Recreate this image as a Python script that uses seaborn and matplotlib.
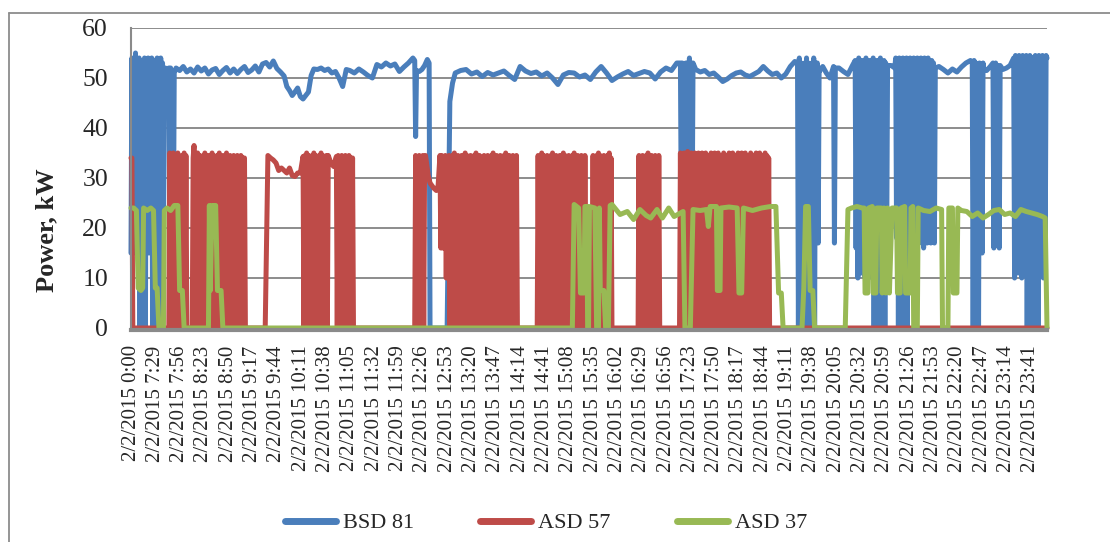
import numpy as np
import pandas as pd
import matplotlib
matplotlib.use("Agg")
import matplotlib.pyplot as plt
from matplotlib.lines import Line2D
import seaborn as sns

# ---------------- data (minute index: 0 = 0:00, 1 = 7:03, ... 1017 = 23:59) ----------------
TIME_LABELS = ["0:00", "7:29", "7:56", "8:23", "8:50", "9:17", "9:44", "10:11", "10:38", "11:05",
               "11:32", "11:59", "12:26", "12:53", "13:20", "13:47", "14:14", "14:41", "15:08",
               "15:35", "16:02", "16:29", "16:56", "17:23", "17:50", "18:17", "18:44", "19:11",
               "19:38", "20:05", "20:32", "20:59", "21:26", "21:53", "22:20", "22:47", "23:14",
               "23:41"]
DATE = "2/2/2015"
SERIES = ["BSD 81", "ASD 57", "ASD 37"]
COLORS = ["#4A7EBB", "#BE4B48", "#98B954"]

# runs: (start minute, minute step, kW values)
BSD81_RUNS = [
    (0, 1, [15, 54, 16, 53, 15, 55, 17, 53, 15, 54, 0, 53, 0, 52, 0, 54, 0, 53, 16, 54, 15, 53, 17, 54,
            0, 53, 0, 52, 0, 54, 16, 53, 0, 54, 0, 53, 15, 52]),
    (38, 2, [52, 51.5]),
    (42, 1, [52, 16, 52, 15, 50, 16, 51]),
    (50, 4, [52, 51.5, 52.3, 51.2, 51.8, 51, 52.2, 51.4, 52, 50.8, 51.6, 51.9, 50.7, 51.5, 52.1, 51,
             51.8, 50.9, 51.7, 52.3, 51.1, 51.6, 52.4, 51.2, 52.8, 53.1, 52.2, 53.4, 51.9, 51.2]),
    (170, 3, [50.4, 48.3, 47.5, 46.5, 47.2, 48, 46.3, 45.8, 46.5, 47.2, 50.5, 51.8]),
    (207, 4, [51.7, 52, 51.5, 51.8, 51, 51.3, 50, 48.3, 51.7]),
    (243, 5, [51.5, 51, 51.8, 51.2, 50.5, 50, 52.7, 52.2, 53, 52.4, 52.8, 51.3, 52.2, 53, 54]),
    (315, 1, [53.5, 38.3, 51.5]),
    (320, 3, [51.3, 51.7, 52.5, 53.7]),
    (331, 1, [53, 0]),
    (351, 3, [0, 45.3, 49]),
    (360, 6, [51, 51.5, 51.7, 50.8, 51.2, 50.3, 51.1, 50.6, 51, 51.4, 50.5, 49.7, 52.3, 51.4, 50.9,
              51.2, 50.4, 51, 50, 48.7, 50.6, 51.1, 51, 50.2, 50.6, 49.7, 51.2, 52.3, 51, 49.5, 50.2,
              50.8, 51.3, 50.5, 50.9, 51.3, 51, 49.8, 51.2, 52, 51.5, 53]),
    (610, 1, [53, 22, 53, 20, 52, 21, 53, 19, 53, 22, 54, 20, 53, 21, 53]),
    (627, 5, [51.7, 51.2, 51.5, 50.7, 51, 50.2, 49.3, 49.8, 50.5, 51, 51.2, 50.6, 50.3, 50.8, 51.3,
              52.3, 51.4, 50.7, 51, 50, 50.8, 52.3, 53.3]),
    (740, 1, [53, 0, 54, 0, 53, 2, 52, 0, 53, 0, 54, 1, 53, 0, 52, 0, 53, 0, 54, 0, 53, 18, 53, 17,
              52, 51.5]),
    (768, 4, [52.3, 51, 50, 52.3]),
    (781, 1, [17, 52]),
    (786, 5, [52, 51.3, 50.7, 52.5]),
    (804, 1, [53.5, 16, 53, 10, 54, 15, 53, 11, 53.5, 16, 53, 10, 54, 14, 53, 12, 53.5, 16, 53, 10,
              54, 0, 53, 12, 53.5, 0, 53, 15, 54, 0, 53, 11, 53.5, 0, 53, 16, 52.5]),
    (844, 4, [52.5, 52]),
    (849, 1, [54, 18, 53, 0, 54, 17, 53, 0, 54, 0, 53, 18, 54, 0, 53, 17, 54, 18, 53, 17, 54, 16, 53,
              18, 54, 17, 53, 18, 54, 17, 53, 16, 54, 18, 53, 17, 54, 18, 53, 17, 53.5, 18, 53, 17, 52]),
    (897, 5, [52.3, 51.7, 51, 51.8, 51.2, 52.2, 53, 53.5]),
    (934, 1, [53, 0, 53.5, 0, 53, 1, 52.5, 0, 53, 16, 52, 15, 53, 51.5]),
    (950, 4, [51.5, 52.3]),
    (957, 1, [53, 16, 52.5, 53, 17, 52.5, 52, 16, 52.5]),
    (968, 4, [51.7, 52, 52.5]),
    (980, 1, [54, 10, 54.5, 16, 54, 11, 54.5, 15, 54, 10, 54.5, 16, 54, 12, 54.5, 0, 54, 15, 54.5, 0,
              54, 14, 54, 0, 54.5, 16, 54, 0, 54.5, 13, 54, 16, 54.5, 10, 54, 15, 54.5, 54]),
]

ASD57_RUNS = [
    (0, 1, [34, 34, 0]),
    (42, 1, [0, 35, 0, 34.5, 0, 35, 0, 0, 34.5, 0, 35, 0, 34, 0, 0, 34.5, 0, 35, 0, 34.5, 0]),
    (68, 1, [0, 34, 36.5, 0, 34, 0, 35, 0, 34.5, 0, 34, 10, 34.5, 10, 35, 0, 34, 0, 34.5, 0, 34, 0,
             35, 0, 34.5, 0, 34, 0, 34.5, 0, 35, 0, 34, 0, 34.5, 0, 34, 0, 35, 0, 34, 0, 34.5, 0, 34,
             0, 34.5, 10, 34, 10, 34.5, 0, 34, 0, 34.5, 0, 34, 0, 34, 0]),
    (149, 3, [0, 34.5, 34, 33.6, 33, 31.5, 32, 31.5, 31, 32, 30.5, 30.3, 31, 31, 34.3]),
    (192, 1, [0, 34.5, 0, 35, 0, 34.5, 0, 34, 0, 34.5, 0, 35, 0, 34.5, 0, 34, 0, 34.5, 0, 35, 0,
              34.5, 0, 34, 0, 34.5, 0, 34.5]),
    (222, 3, [33, 32.3]),
    (228, 1, [34.3, 0, 34.5, 0, 34, 0, 34.5, 10, 34, 0, 34.5, 0, 34, 0, 34.5, 0, 34, 10, 34, 0]),
    (315, 1, [0, 34.5, 0, 34, 0, 34.5, 0, 34, 0, 34.5, 0, 34, 34.5]),
    (330, 2, [30.5, 29]),
    (336, 3, [28, 27.5]),
    (341, 2, [28.5, 34.5]),
    (344, 1, [16, 34.5, 16, 34, 16, 34.5, 10, 34, 10, 34.5,
              0, 34, 0, 34.5, 0, 35, 0, 34, 0, 34.5,
              0, 34, 0, 34.5, 0, 34, 0, 35, 0, 34.5,
              0, 34, 0, 34.5, 0, 34, 0, 34.5, 0, 35,
              0, 34, 0, 34.5, 0, 9, 34, 9, 34.5, 0,
              34, 0, 34.5, 0, 34, 0, 34.5, 0, 35, 0,
              34, 9, 34.5, 0, 34, 0, 34.5, 0, 34, 0,
              34.5, 0, 35, 0, 34, 0, 34.5, 0, 34, 0,
              34.5, 0, 34, 0, 34.5, 0]),
    (451, 1, [0, 34.5, 0, 34, 0, 35, 0, 34.5, 0, 34, 0,
              34.5, 10, 34, 0, 34.5, 0, 35, 0, 34, 0,
              34.5, 0, 34, 0, 34.5, 0, 34, 0, 35, 0,
              34.5, 0, 34, 0, 34.5, 0, 34, 0, 34.5, 0,
              35, 0, 34, 0, 34.5, 0, 34, 0, 34.5, 0,
              34, 0, 34.5, 0]),
    (512, 1, [0, 34.5, 0, 34, 0, 34.5, 0, 35, 0, 34.5, 0, 34, 0, 34.5, 0, 34, 0, 34.5, 0, 35, 0, 34, 0]),
    (563, 1, [0, 34.5, 0, 34, 0, 34.5, 10, 34, 0, 34.5, 0, 35, 0, 34, 0, 34.5, 0, 34, 10, 34.5, 0,
              34, 0, 34.5, 0]),
    (609, 1, [0, 35, 0, 34.5, 0, 35, 0, 34, 0, 35.3, 0,
              34.5, 0, 35, 0, 34.5, 0, 35, 0, 34, 0,
              35, 0, 34.5, 0, 35, 10, 34.5, 0, 35, 0,
              34, 0, 34.5, 0, 35, 10, 34.5, 10, 35, 0,
              34.5, 0, 35, 0, 34, 0, 34.5, 0, 35, 0,
              34.5, 0, 34, 0, 35, 0, 34.5, 0, 35, 0,
              34, 0, 34.5, 0, 35, 0, 34.5, 10, 35, 10,
              34.5, 0, 35, 0, 34, 0, 34.5, 0, 35, 0,
              34.5, 0, 34, 0, 35, 0, 34.5, 0, 35, 0,
              34, 0, 34.5, 0, 35, 0, 34.5, 0, 34, 0]),
    (1017, 1, [0]),
]

ASD37_MIN = [0, 3, 6, 8, 11, 13, 14, 18, 22, 25, 27, 29, 31, 36, 37, 40, 44, 48, 52, 54, 57, 59,
             86, 87, 88, 90, 94, 96, 100, 102,
             490, 492, 497, 499, 503, 504, 506, 507, 508, 509, 515, 517, 519, 520, 521, 525, 527,
             530, 532, 534, 543, 551, 558, 565, 572, 577, 584, 590, 597, 603, 610, 613, 615, 621,
             624, 632, 639, 641, 643, 650, 651, 654, 655, 664, 673, 675, 678, 680, 690, 700, 710,
             716, 719, 722, 724,
             745, 747, 749, 752, 754, 757, 759,
             793, 796, 800, 806, 812, 814, 815, 818, 819, 823, 824, 827, 828, 833, 834, 836, 838,
             840, 842, 845, 850, 851, 854, 855, 859, 860, 865, 866, 868, 869, 873, 874, 880, 887,
             894, 900, 901, 907, 908, 912, 913, 917, 918, 922, 928, 934, 940, 946, 952, 958, 964,
             970, 976, 982, 988, 994, 1000, 1006, 1012, 1015, 1017]
ASD37_KW = [24, 24, 23.5, 8, 7.5, 8, 24, 23.5, 24, 23.5, 8, 8, 0, 0, 23.5, 24, 23.5, 24.5, 24.5, 7.5, 7.5, 0,
            0, 24.5, 7.5, 24.5, 24.5, 7.5, 7.5, 0,
            0, 24.7, 24, 7, 7, 24.3, 24.3, 0, 0, 24.3, 24, 0, 0, 24, 7.5, 7.5, 0,
            0, 24.5, 24.7, 22.7, 23.3, 21.7, 23.7, 22.5, 22, 23.7, 22, 24, 22.3, 23, 23.3, 0, 0,
            23.7, 23.5, 23.7, 20.3, 24.3, 24.3, 7.5, 7.5, 24, 24.2, 24, 7, 7, 24, 23.5, 24, 24.3,
            24.3, 7, 7, 0,
            0, 8, 24.3, 24.3, 7.5, 7.5, 0,
            0, 23.7, 24, 24.3, 24, 24, 7, 7, 24, 24.3, 7, 7, 24, 24, 7, 24, 7,
            24, 7, 24, 24, 7, 7, 24, 24.3, 7, 7, 24, 24.3, 0, 0, 24, 23.5, 23.3,
            24, 23.7, 0, 0, 24, 24, 7, 7, 24, 23.5, 23.3, 22.3, 23, 22, 22.7, 23.5, 23.7,
            22.7, 23, 22.3, 23.7, 23.3, 23, 22.7, 22.3, 22, 0]


def expand(runs):
    xs, ys = [], []
    for start, step, vals in runs:
        for k, v in enumerate(vals):
            xs.append(start + k * step)
            ys.append(v)
    return xs, ys


frames = []
bx, by = expand(BSD81_RUNS)
rx, ry = expand(ASD57_RUNS)
for name, xs, ys in [(SERIES[0], bx, by), (SERIES[1], rx, ry), (SERIES[2], ASD37_MIN, ASD37_KW)]:
    d = pd.DataFrame({"minute": xs, "kW": ys})
    d = d.sort_values("minute", kind="stable")
    d["series"] = name
    frames.append(d)
df = pd.concat(frames, ignore_index=True)

# ---------------- style ----------------
sns.set_style("white")
plt.rcParams["font.family"] = ["Liberation Serif", "DejaVu Serif"]

W, H = 1110, 542
fig = plt.figure(figsize=(W / 100, H / 100), dpi=100)
ax = fig.add_axes([131 / W, 1 - 328 / H, 916 / W, 300 / H])

sns.lineplot(data=df, x="minute", y="kW", hue="series", hue_order=SERIES,
             palette=dict(zip(SERIES, COLORS)), estimator=None, sort=False,
             linewidth=3.6, ax=ax)
for ln in ax.lines:
    ln.set_clip_on(False)
    ln.set_solid_joinstyle("round")
    ln.set_solid_capstyle("round")

ax.set_xlim(0, 1017)
ax.set_ylim(0, 60)
ax.set_yticks(range(0, 61, 10))
ax.set_xticks([27 * k for k in range(len(TIME_LABELS))])
ax.set_xticklabels([f"{DATE} {t}" for t in TIME_LABELS])
ax.tick_params(axis="x", length=0, pad=11, labelsize=15, labelrotation=90)
for lab in ax.get_xticklabels():
    lab.set_rotation(90)
    lab.set_ha("center")
    lab.set_va("top")
ax.tick_params(axis="y", length=6, width=1.2, color="#8a8a8a", pad=10.5, labelsize=18.5)

ax.grid(axis="y", color="#8c8c8c", linewidth=1.4)
ax.grid(axis="x", visible=False)
ax.set_axisbelow(True)
for s in ["top", "right"]:
    ax.spines[s].set_visible(False)
ax.spines["left"].set_color("#8a8a8a")
ax.spines["left"].set_linewidth(1.5)
ax.spines["bottom"].set_color("#8a8a8a")
ax.spines["bottom"].set_linewidth(3)
ax.spines["bottom"].set_position(("outward", 1.5))

ax.set_xlabel("")
ax.set_ylabel("Power, kW", fontsize=19, fontweight="bold")
ax.yaxis.set_label_coords((58 - 131) / 916, (328 - 230) / 300)

handles, labels = ax.get_legend_handles_labels()
if ax.get_legend() is not None:
    ax.get_legend().remove()
leg = fig.legend(handles, labels, loc="center", bbox_to_anchor=(546 / W, 1 - 523 / H),
                 ncol=3, frameon=False, fontsize=16, handlelength=2.3,
                 handletextpad=0.3, columnspacing=3.0)
for h in leg.get_lines():
    h.set_linewidth(5)
    h.set_solid_capstyle("round")

# chart-area frame
fig.add_artist(Line2D([9 / W, 9 / W], [0, 1 - 13 / H], transform=fig.transFigure,
                      color="#8c8c8c", linewidth=1.3))
fig.add_artist(Line2D([9 / W, 1], [1 - 13 / H, 1 - 13 / H], transform=fig.transFigure,
                      color="#8c8c8c", linewidth=1.3))

fig.savefig("out.png", dpi=100)
